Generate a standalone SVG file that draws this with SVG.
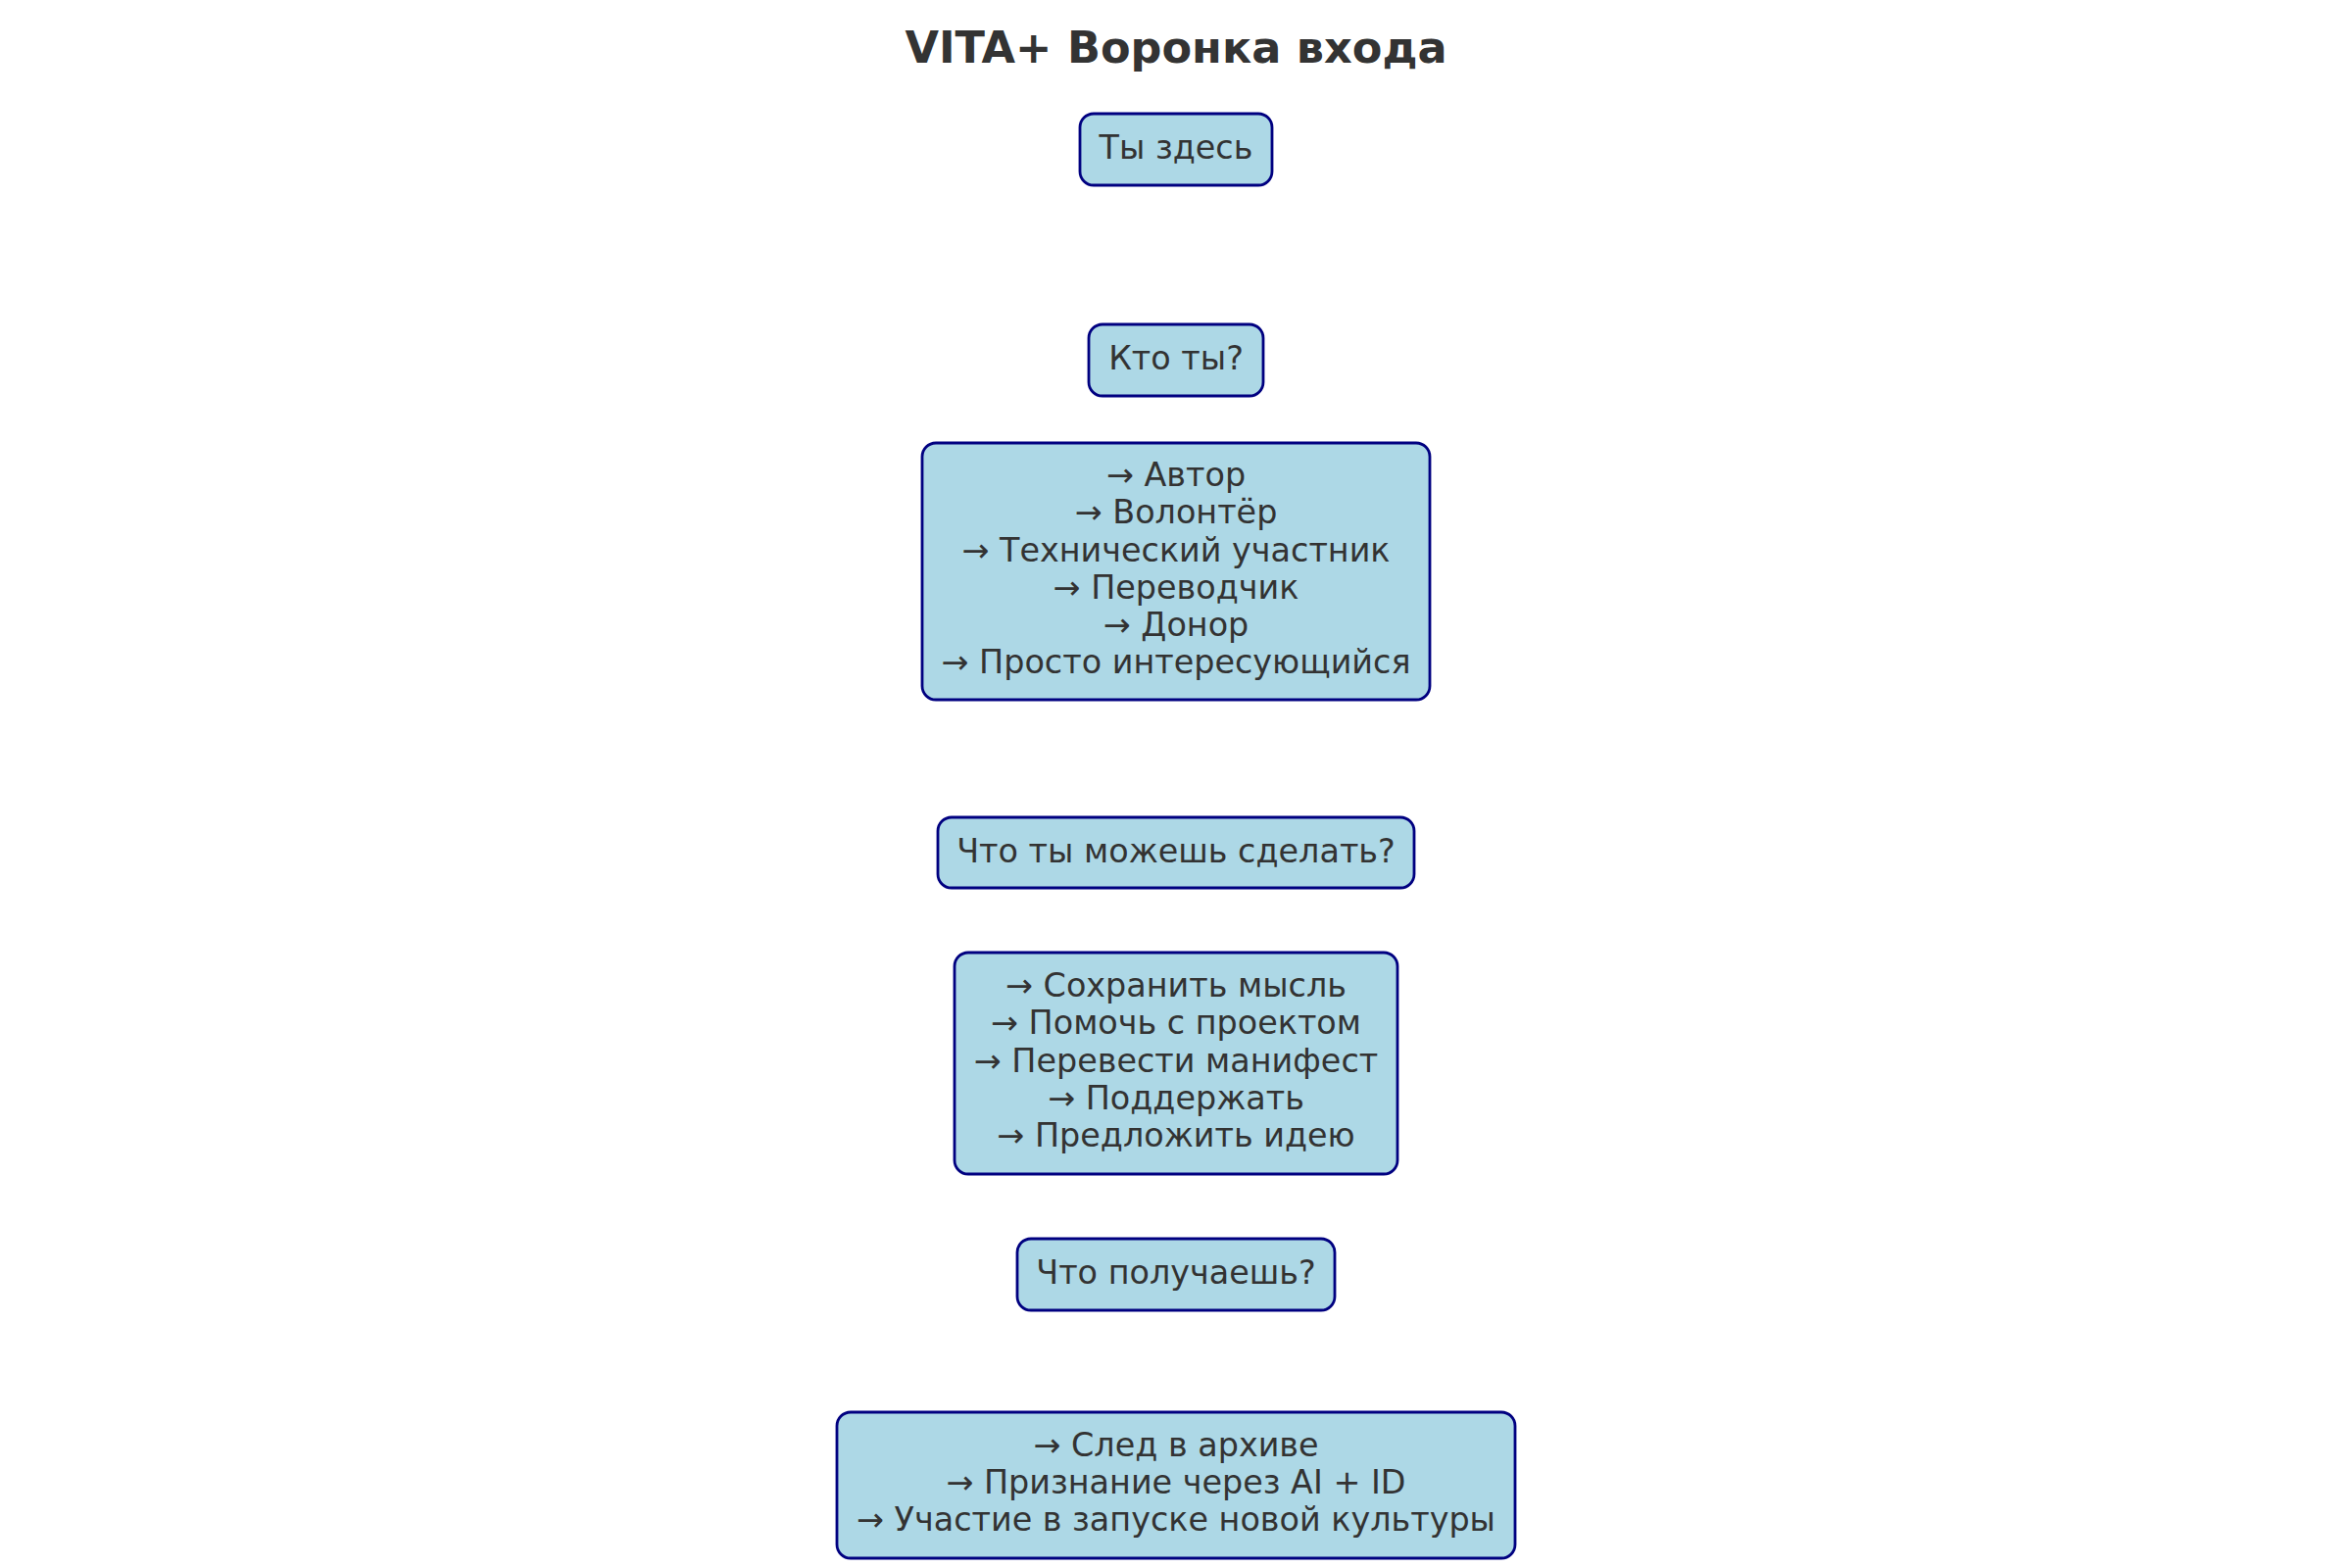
<svg xmlns="http://www.w3.org/2000/svg" width="2400" height="1600" viewBox="0 0 2400 1600">
<style>
.box{fill:#ADD8E6;stroke:#000080;stroke-width:2.8}
.t{font-family:"DejaVu Sans","Noto Sans",sans-serif;font-size:33.4px;fill:#333333;text-anchor:middle}
.title{font-family:"DejaVu Sans","Noto Sans",sans-serif;font-size:44.6px;font-weight:bold;fill:#333333;text-anchor:middle}
</style>
<rect width="2400" height="1600" fill="#ffffff"/>
<text class="title" x="1200" y="64">VITA+ Воронка входа</text>
<g id="connectors"/>
<g id="n1">
<rect class="box" x="1102" y="116" width="196" height="73" rx="14"/>
<text class="t" x="1200" y="162">Ты здесь</text>
</g>
<g id="n2">
<rect class="box" x="1111" y="331" width="178" height="73" rx="14"/>
<text class="t" x="1200" y="377">Кто ты?</text>
</g>
<g id="n3">
<rect class="box" x="941" y="452" width="518" height="262" rx="14"/>
<text class="t" x="1200" y="496">→ Автор</text>
<text class="t" x="1200" y="534">→ Волонтёр</text>
<text class="t" x="1200" y="573">→ Технический участник</text>
<text class="t" x="1200" y="611">→ Переводчик</text>
<text class="t" x="1200" y="649">→ Донор</text>
<text class="t" x="1200" y="687">→ Просто интересующийся</text>
</g>
<g id="n4">
<rect class="box" x="957" y="834" width="486" height="72" rx="14"/>
<text class="t" x="1200" y="880">Что ты можешь сделать?</text>
</g>
<g id="n5">
<rect class="box" x="974" y="972" width="452" height="226" rx="14"/>
<text class="t" x="1200" y="1017">→ Сохранить мысль</text>
<text class="t" x="1200" y="1055">→ Помочь с проектом</text>
<text class="t" x="1200" y="1094">→ Перевести манифест</text>
<text class="t" x="1200" y="1132">→ Поддержать</text>
<text class="t" x="1200" y="1170">→ Предложить идею</text>
</g>
<g id="n6">
<rect class="box" x="1038" y="1264" width="324" height="73" rx="14"/>
<text class="t" x="1200" y="1310">Что получаешь?</text>
</g>
<g id="n7">
<rect class="box" x="854" y="1441" width="692" height="149" rx="14"/>
<text class="t" x="1200" y="1486">→ След в архиве</text>
<text class="t" x="1200" y="1524">→ Признание через AI + ID</text>
<text class="t" x="1200" y="1562">→ Участие в запуске новой культуры</text>
</g>
</svg>
